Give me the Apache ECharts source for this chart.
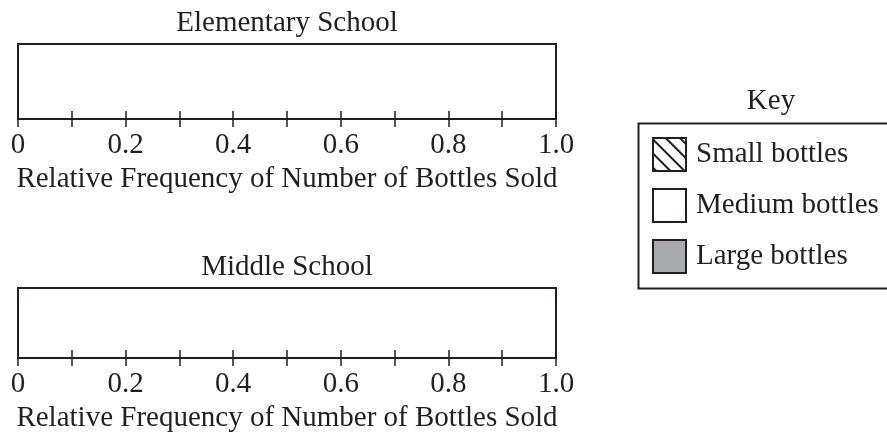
<!DOCTYPE html>
<html><head><meta charset="utf-8">
<script src="https://cdn.jsdelivr.net/npm/echarts@6/dist/echarts.min.js"></script>
<style>html,body{margin:0;padding:0;background:#fff}#c{width:887px;height:434px}</style>
</head><body><div id="c"></div>
<script>
// ---- data (the reference is a blank template: no bars drawn) ----
const schools = ['Elementary School', 'Middle School'];
const axisTitle = 'Relative Frequency of Number of Bottles Sold';
const sizeNames = ['Small bottles', 'Medium bottles', 'Large bottles'];
const smallBottles = [];
const mediumBottles = [];
const largeBottles = [];
const tickLabels = ['0', '0.2', '0.4', '0.6', '0.8', '1.0'];
const keyTitle = 'Key';

const FONT = '"Liberation Serif", "Times New Roman", serif';
const INK = '#231f20';
const GRAY = '#a7a9ac';

const chart = echarts.init(document.getElementById('c'), null, {renderer: 'canvas'});

const grids = [
  {left: 18, top: 44, width: 538, height: 75},
  {left: 18, top: 288, width: 538, height: 74}
].map(g => Object.assign(g, {show: true, borderColor: INK, borderWidth: 2, backgroundColor: '#fff'}));

function labelFmt(v) {
  const k = Math.round(v * 10);
  return k % 2 === 0 ? tickLabels[k / 2] : '';
}

const xAxes = [];
const yAxes = [];
schools.forEach((s, i) => {
  xAxes.push({
    type: 'value', gridIndex: i, position: 'bottom', min: 0, max: 1, interval: 0.1,
    axisLine: {show: true, lineStyle: {color: INK, width: 2}},
    axisTick: {show: true, inside: false, length: 8, lineStyle: {color: INK, width: 1.5}},
    axisLabel: {show: true, formatter: labelFmt, margin: 12, color: INK, fontSize: 29, fontFamily: FONT,
      showMinLabel: true, showMaxLabel: true},
    splitLine: {show: false},
    name: axisTitle, nameLocation: 'middle', nameGap: 46,
    nameTextStyle: {color: INK, fontSize: 29, fontFamily: FONT}
  });
  xAxes.push({
    type: 'value', gridIndex: i, position: 'bottom', min: 0, max: 1, interval: 0.1,
    axisLine: {show: false},
    axisTick: {show: true, inside: true, length: 8, lineStyle: {color: INK, width: 1.5}},
    axisLabel: {show: false},
    splitLine: {show: false}
  });
  yAxes.push({type: 'category', gridIndex: i, data: [s], show: false});
});

const styles = [
  {color: '#fff', borderColor: INK, borderWidth: 2,
   decal: {symbol: 'rect', symbolSize: 1, dashArrayX: [[1, 0]], dashArrayY: [2, 8],
           rotation: Math.PI / 4, color: INK}},
  {color: '#fff', borderColor: INK, borderWidth: 2},
  {color: GRAY, borderColor: INK, borderWidth: 2}
];
const seriesData = [smallBottles, mediumBottles, largeBottles];
const series = [];
schools.forEach((s, i) => {
  sizeNames.forEach((n, j) => {
    series.push({
      type: 'bar', name: n, stack: 'school' + i, xAxisIndex: i * 2, yAxisIndex: i,
      data: seriesData[j].length ? [seriesData[j][i]] : [],
      itemStyle: styles[j], barWidth: '100%'
    });
  });
});

chart.setOption({
  animation: false,
  backgroundColor: '#fff',
  title: schools.map((s, i) => ({
    text: s, left: 287, top: i === 0 ? 9 : 253, textAlign: 'center', padding: 0,
    textStyle: {color: INK, fontSize: 29, fontWeight: 'normal', fontFamily: FONT}
  })),
  grid: grids,
  xAxis: xAxes,
  yAxis: yAxes,
  legend: {
    orient: 'vertical', left: 652, top: 137, padding: 0,
    itemWidth: 33, itemHeight: 33, itemGap: 16, icon: 'rect', selectedMode: false,
    data: sizeNames,
    textStyle: {color: INK, fontSize: 29, fontFamily: FONT, padding: [2, 0, 0, 5]}
  },
  graphic: [
    {type: 'rect', left: 636, top: 121, shape: {x: 0, y: 0, width: 300, height: 165},
     style: {fill: 'none', stroke: INK, lineWidth: 2}, silent: true},
    {type: 'text', x: 771, y: 87, style: {text: keyTitle, fill: INK, font: '29px ' + FONT, textAlign: 'center'}}
  ],
  series: series
});
</script></body></html>
